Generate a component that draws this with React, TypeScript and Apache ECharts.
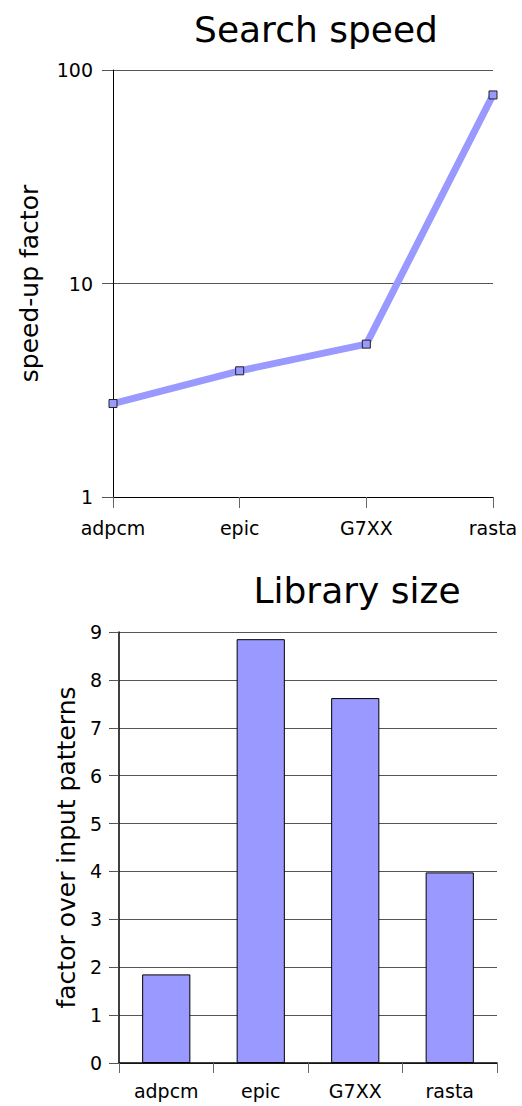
import React, { useEffect, useRef } from "react";
import * as echarts from "echarts";

const categories = ["adpcm", "epic", "G7XX", "rasta"];
const speedUp = [2.74, 3.9, 5.2, 76.4];
const librarySize = [1.85, 8.85, 7.62, 3.98];
const speedTicks = [1, 10, 100];

const FONT = "DejaVu Sans";

export default function App() {
  const ref = useRef<HTMLDivElement>(null);
  useEffect(() => {
    if (!ref.current) return;
    const chart = echarts.init(ref.current, undefined, { renderer: "svg" });
    chart.setOption({
      animation: false,
      textStyle: { fontFamily: FONT },
      graphic: [
        {
          type: "text",
          x: 316,
          y: 29,
          style: {
            text: "Search speed",
            fontSize: 36,
            fontFamily: FONT,
            fill: "#000",
            textAlign: "center",
            textVerticalAlign: "middle",
          },
        },
        {
          type: "text",
          x: 357,
          y: 590,
          style: {
            text: "Library size",
            fontSize: 36,
            fontFamily: FONT,
            fill: "#000",
            textAlign: "center",
            textVerticalAlign: "middle",
          },
        },
      ],
      grid: [
        { left: 113, right: 29, top: 70, height: 427 },
        { left: 119, right: 25, top: 632, height: 431 },
      ],
      xAxis: [
        {
          type: "category",
          gridIndex: 0,
          data: categories,
          boundaryGap: false,
          axisLine: { lineStyle: { color: "#000", width: 1 } },
          axisTick: { show: true, length: 11, lineStyle: { color: "#666" } },
          axisLabel: { color: "#000", fontSize: 19, fontFamily: FONT, margin: 21 },
          splitLine: { show: false },
        },
        {
          type: "category",
          gridIndex: 1,
          data: categories,
          boundaryGap: true,
          axisLine: { lineStyle: { color: "#000", width: 1.5 } },
          axisTick: { show: true, length: 10, lineStyle: { color: "#666" } },
          axisLabel: { color: "#000", fontSize: 19, fontFamily: FONT, margin: 18 },
          splitLine: { show: false },
        },
      ],
      yAxis: [
        {
          type: "log",
          gridIndex: 0,
          logBase: 10,
          min: speedTicks[0],
          max: speedTicks[speedTicks.length - 1],
          name: "speed-up factor",
          nameLocation: "middle",
          nameGap: 71,
          nameTextStyle: { fontSize: 25, fontFamily: FONT, color: "#000" },
          axisLine: { show: true, lineStyle: { color: "#000", width: 1 } },
          axisTick: { show: true, length: 11, lineStyle: { color: "#555" } },
          axisLabel: { color: "#000", fontSize: 19, fontFamily: FONT, margin: 20 },
          splitLine: { show: true, lineStyle: { color: "#555", width: 1 } },
          minorTick: { show: false },
        },
        {
          type: "value",
          gridIndex: 1,
          min: 0,
          max: 9,
          interval: 1,
          name: "factor over input patterns",
          nameLocation: "middle",
          nameGap: 40,
          nameTextStyle: { fontSize: 25, fontFamily: FONT, color: "#000" },
          axisLine: { show: true, lineStyle: { color: "#000", width: 1.5 } },
          axisTick: { show: true, length: 10, lineStyle: { color: "#555" } },
          axisLabel: { color: "#000", fontSize: 19, fontFamily: FONT, margin: 17 },
          splitLine: { show: true, lineStyle: { color: "#555", width: 1 } },
        },
      ],
      series: [
        {
          type: "line",
          xAxisIndex: 0,
          yAxisIndex: 0,
          data: speedUp,
          symbol: "rect",
          symbolSize: 8,
          lineStyle: { color: "#9999ff", width: 7 },
          itemStyle: { color: "#9999ff", borderColor: "#222", borderWidth: 1 },
          z: 3,
        },
        {
          type: "bar",
          xAxisIndex: 1,
          yAxisIndex: 1,
          data: librarySize,
          barWidth: "51%",
          itemStyle: { color: "#9999ff", borderColor: "#000", borderWidth: 1 },
        },
      ],
    });
    return () => chart.dispose();
  }, []);
  return <div ref={ref} style={{ width: 522, height: 1106, position: "absolute", left: 0, top: 0 }} />;
}
